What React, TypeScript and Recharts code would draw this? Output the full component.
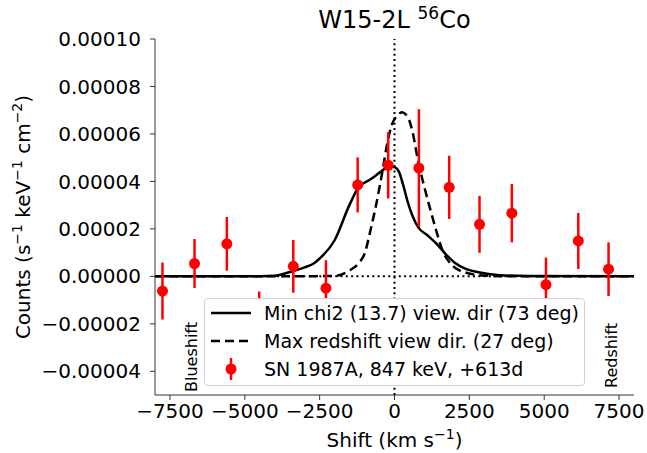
import { ComposedChart, Line, Scatter, ErrorBar, XAxis, YAxis, ReferenceLine } from "recharts";

// observed points (SN 1987A, 847 keV, +613d)
const shiftKms = [-7750, -6680, -5600, -4520, -3380, -2290, -1230, -210, 815, 1827, 2840, 3920, 5060, 6140, 7150];
const countsObs = [
  -0.0000062, 0.0000054, 0.0000137, -0.0000172, 0.0000042, -0.000005, 0.0000385, 0.0000468, 0.0000456,
  0.0000375, 0.0000219, 0.0000266, -0.0000035, 0.0000149, 0.000003,
];
const countsErr = [
  0.000012, 0.0000103, 0.0000113, 0.0000108, 0.0000111, 0.0000118, 0.0000116, 0.000014, 0.0000248,
  0.0000133, 0.000012, 0.0000123, 0.0000114, 0.0000118, 0.0000113,
];

// model: min chi2 view direction
const minChiShift = [
  -8000, -4500, -4000, -3500, -3000, -2700, -2500, -2000, -1500, -1200, -800, -500, -300, -100, 0, 150, 300, 450,
  600, 800, 1100, 1400, 1700, 2000, 2400, 2800, 3500, 4500, 8000,
];
const minChiCounts = [
  0, 0, 0.0000002, 0.0000018, 0.0000038, 0.0000054, 0.0000075, 0.0000152, 0.0000302, 0.0000375, 0.0000409,
  0.0000437, 0.0000455, 0.0000462, 0.000046, 0.000044, 0.000038, 0.000031, 0.0000255, 0.0000205, 0.0000173,
  0.0000138, 0.0000095, 0.0000058, 0.000003, 0.0000017, 0.0000005, 0.0000001, 0,
];

// model: max redshift view direction
const maxRedShift = [
  -8000, -3000, -2500, -2000, -1500, -1200, -1000, -800, -600, -400, -250, -100, 100, 250, 450, 600, 800, 1000,
  1200, 1400, 1600, 1800, 2000, 2400, 3000, 4000, 8000,
];
const maxRedCounts = [
  0, 0, 0.0000001, 0.0000002, 0.0000025, 0.0000055, 0.0000095, 0.0000195, 0.000031, 0.0000445, 0.0000555,
  0.0000635, 0.0000678, 0.0000691, 0.000067, 0.000061, 0.0000478, 0.0000375, 0.000028, 0.000019, 0.000011,
  0.0000065, 0.0000038, 0.0000015, 0.0000003, 0, 0,
];

const xTicks = [-7500, -5000, -2500, 0, 2500, 5000, 7500];
const yTicks = [-0.00004, -0.00002, 0, 0.00002, 0.00004, 0.00006, 0.00008, 0.0001];
const yDomain = [-0.00005, 0.0001];

const obsData = shiftKms.map((x, i) => ({ x, y: countsObs[i], err: countsErr[i] }));
const minChiData = minChiShift.map((x, i) => ({ x, y: minChiCounts[i] }));
const maxRedData = maxRedShift.map((x, i) => ({ x, y: maxRedCounts[i] }));

const font = "'DejaVu Sans', sans-serif";
const minus = (s: string) => s.replace("-", "\u2212");
const fmtX = (v: number) => minus(String(v));
const fmtY = (v: number) => minus((Math.abs(v) < 1e-12 ? 0 : v).toFixed(5));
const spine = "#333";

function LegendBox() {
  const rows = [
    { kind: "solid", label: "Min chi2 (13.7) view. dir (73 deg)" },
    { kind: "dashed", label: "Max redshift view dir. (27 deg)" },
    { kind: "point", label: "SN 1987A, 847 keV, +613d" },
  ];
  return (
    <div
      style={{
        position: "absolute",
        left: 204,
        top: 298,
        width: 381,
        height: 88,
        boxSizing: "border-box",
        border: "1px solid #d0d0d0",
        borderRadius: 4,
        background: "#fff",
        fontFamily: font,
        fontSize: 19,
      }}
    >
      {rows.map((r) => (
        <div key={r.label} style={{ display: "flex", alignItems: "center", height: 28 }}>
          <svg width={59} height={24} style={{ flex: "none" }}>
            {r.kind === "point" ? (
              <g>
                <line x1={26} x2={26} y1={1} y2={23} stroke="red" strokeWidth={2.5} />
                <circle cx={26} cy={12} r={5.5} fill="red" />
              </g>
            ) : (
              <line
                x1={6}
                x2={46}
                y1={12}
                y2={12}
                stroke="black"
                strokeWidth={2.5}
                strokeDasharray={r.kind === "dashed" ? "9 5" : undefined}
              />
            )}
          </svg>
          <span style={{ whiteSpace: "nowrap" }}>{r.label}</span>
        </div>
      ))}
    </div>
  );
}

export default function App() {
  return (
    <div style={{ position: "absolute", left: 0, top: 0, width: 647, height: 453, background: "#fff" }}>
      <ComposedChart width={647} height={453} margin={{ top: 39, right: 13, bottom: 18, left: 45 }}>
        <XAxis
          xAxisId="b"
          type="number"
          dataKey="x"
          domain={[-8000, 8000]}
          ticks={xTicks}
          tickFormatter={fmtX}
          allowDataOverflow
          height={40}
          tickSize={5}
          tickMargin={4}
          tick={{ fontSize: 20, fill: "#000", fontFamily: font }}
          stroke={spine}
        />
        <XAxis xAxisId="t" orientation="top" type="number" domain={[-8000, 8000]} height={0} tick={false} tickLine={false} stroke={spine} />
        <YAxis
          yAxisId="l"
          type="number"
          domain={yDomain}
          ticks={yTicks}
          tickFormatter={fmtY}
          allowDataOverflow
          width={110}
          tickSize={5}
          tickMargin={9}
          tick={{ fontSize: 20, fill: "#000", fontFamily: font }}
          stroke={spine}
        />
        <YAxis yAxisId="r" orientation="right" type="number" domain={yDomain} width={0} tick={false} tickLine={false} stroke={spine} />
        <ReferenceLine xAxisId="b" yAxisId="l" x={0} stroke="#000" strokeWidth={2} strokeDasharray="2 3.3" />
        <ReferenceLine xAxisId="b" yAxisId="l" y={0} stroke="#000" strokeWidth={2} strokeDasharray="2 3.3" />
        <Line
          xAxisId="b"
          yAxisId="l"
          data={minChiData}
          dataKey="y"
          type="monotone"
          stroke="#000"
          strokeWidth={2.5}
          dot={false}
          isAnimationActive={false}
        />
        <Line
          xAxisId="b"
          yAxisId="l"
          data={maxRedData}
          dataKey="y"
          type="monotone"
          stroke="#000"
          strokeWidth={2.5}
          strokeDasharray="9 5"
          dot={false}
          isAnimationActive={false}
        />
        <Scatter
          xAxisId="b"
          yAxisId="l"
          data={obsData}
          dataKey="y"
          fill="red"
          isAnimationActive={false}
          shape={(p: any) => <circle cx={p.cx} cy={p.cy} r={5.5} fill="red" />}
        >
          <ErrorBar dataKey="err" direction="y" width={0} stroke="red" strokeWidth={2.5} />
        </Scatter>
      </ComposedChart>
      <LegendBox />
      <svg
        width={647}
        height={453}
        style={{ position: "absolute", left: 0, top: 0, pointerEvents: "none" }}
        fontFamily={font}
      >
        <text x={394.5} y={28} textAnchor="middle" fontSize={24}>
          W15-2L <tspan dy={-9} fontSize={17}>56</tspan>
          <tspan dy={9}>Co</tspan>
        </text>
        <text x={394.5} y={447} textAnchor="middle" fontSize={20}>
          Shift (km s<tspan dy={-8} fontSize={14}>−1</tspan>
          <tspan dy={8}>)</tspan>
        </text>
        <text transform="translate(30,217) rotate(-90)" textAnchor="middle" fontSize={20}>
          Counts (s<tspan dy={-8} fontSize={14}>−1</tspan>
          <tspan dy={8}> keV</tspan>
          <tspan dy={-8} fontSize={14}>−1</tspan>
          <tspan dy={8}> cm</tspan>
          <tspan dy={-8} fontSize={14}>−2</tspan>
          <tspan dy={8}>)</tspan>
        </text>
        <text transform="translate(197,392) rotate(-90)" fontSize={16}>
          Blueshift
        </text>
        <text transform="translate(617,388) rotate(-90)" fontSize={16}>
          Redshift
        </text>
      </svg>
    </div>
  );
}
